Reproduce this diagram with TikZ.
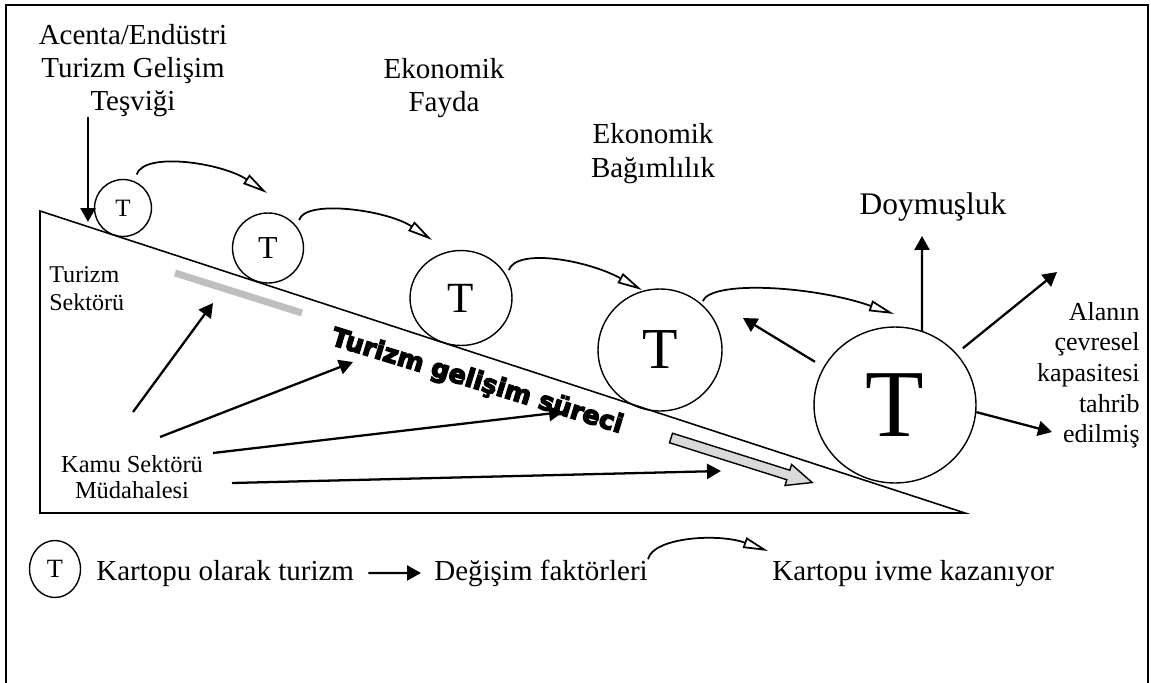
\documentclass[tikz,border=0pt]{standalone}
\usepackage{fontspec}
\setmainfont{Liberation Serif}
\newfontfamily\heavyfont[UprightFont={* Bold}, FakeBold=5]{DejaVu Sans}
\usepackage{tikz}
\usetikzlibrary{arrows.meta}
\usetikzlibrary{shapes.geometric}
\tikzset{>=latex}
\newcommand{\fs}[2]{\fontsize{#1}{#2}\selectfont}
\tikzstyle{ball} = [ellipse, draw = black, line width = 0.8pt, inner sep = 0]
\tikzstyle{lbl} = [draw = none, inner sep = 0]
\tikzstyle{push} = [-{Triangle[length = 0.28cm, width = 0.3cm]}, line width = 1.3pt]
\tikzstyle{roll} = [-{Triangle[open, length = 0.5cm, width = 0.22cm]}, line width = 1pt]

\begin{document}
\begin{tikzpicture}[x = 0.02cm, y = -0.02cm]
\useasboundingbox (0, 0) rectangle (1151, 682);
% frame and slope
\draw [line width = 1.4pt] (6, 700) -- (6, 5) -- (1148, 5) -- (1148, 700);
\draw [line width = 0.9pt] (40, 211) -- (965, 513) -- (40, 513) -- cycle;
\draw [line width = 0.14cm, gray!50] (175, 273) -- (302, 313);
\begin{scope}[shift = {(671, 438)}, rotate = -17.5]
\draw [line width = 0.8pt, fill = gray!30] (0, -5) -- (123, -5) -- (123, -11) -- (148, 0) -- (123, 11) -- (123, 5) -- (0, 5) -- cycle;
\end{scope}

% snowballs
\node [ball, minimum width = 1.14cm, minimum height = 1.14cm, font = \fs{14.2}{16}] (b1) at (123, 208) {T};
\node [ball, minimum width = 1.42cm, minimum height = 1.40cm, font = \fs{18.2}{20}] (b2) at (268, 248) {T};
\node [ball, minimum width = 2.04cm, minimum height = 1.90cm, font = \fs{24.5}{26}] (b3) at (461, 298) {T};
\node [ball, minimum width = 2.48cm, minimum height = 2.44cm, font = \fs{33}{36}] (b4) at (660, 350) {T};
\node [ball, minimum width = 3.24cm, minimum height = 3.12cm, font = \fs{54.6}{60}] (b5) at (895, 405) {T};

% labels
\node [lbl, anchor = north, align = center, font = \fs{16.5}{18.8}] (acenta) at (133, 24) {Acenta/Endüstri\\Turizm Gelişim\\Teşviği};
\node [lbl, anchor = north, align = center, font = \fs{16.5}{18.8}] (fayda) at (444, 58) {Ekonomik\\Fayda};
\node [lbl, anchor = north, align = center, font = \fs{16.5}{19.3}] (bagim) at (653, 123) {Ekonomik\\Bağımlılık};
\node [lbl, anchor = base, font = \fs{17.9}{20}] (doy) at (933, 214) {Doymuşluk};
\node [lbl, anchor = north east, align = right, font = \fs{14.8}{17.4}] (alan) at (1140, 302) {Alanın\\çevresel\\kapasitesi\\tahrib\\edilmiş};
\node [lbl, anchor = north west, align = left, font = \fs{13.7}{15.9}] (sektor) at (49, 266) {Turizm\\Sektörü};
\node [lbl, anchor = north, align = center, font = \fs{13.9}{14.8}] (kamu) at (132, 455) {Kamu Sektörü\\Müdahalesi};
\node [lbl, rotate = -17, font = \heavyfont\fs{14.5}{16}] (surec) at (477, 382) {Turizm gelişim süreci};

% free arrow ends
\coordinate (hit) at (88, 222);
\coordinate (t1) at (267, 193);
\coordinate (t2) at (432, 240);
\coordinate (t3) at (642, 290);
\coordinate (t4) at (894, 314);
\coordinate (k1) at (133, 412);
\coordinate (k2) at (160, 437);
\coordinate (k3) at (213, 453);
\coordinate (k4) at (232, 483);
\coordinate (g1) at (213, 303);
\coordinate (g2) at (353, 362);
\coordinate (g3) at (563, 412);
\coordinate (g4) at (721, 471);
\coordinate (doyarr) at (922, 236);
\coordinate (alanup) at (1057, 272);
\coordinate (alandn) at (1052, 432);
\coordinate (back) at (743, 318);

\draw [push] (hit |- acenta.south) -- (hit);
\draw [roll, shorten <= 0.14cm] (b1.67) .. controls +(10, -30) and +(-45, -30) .. (t1);
\draw [roll, shorten <= 0.14cm] (b2.36) .. controls +(8, -28) and +(-45, -30) .. (t2);
\draw [roll, shorten <= 0.12cm] (b3.26) .. controls +(10, -28) and +(-55, -30) .. (t3);
\draw [roll, shorten <= 0.06cm] (b4.48) .. controls +(10, -24) and +(-80, -28) .. (t4);
\draw [push] (k1) -- (g1);
\draw [push] (k2) -- (g2);
\draw [push] (k3) -- (g3);
\draw [push] (k4) -- (g4);
\draw [push] (b5.70) -- (doyarr);
\draw [push, shorten <= 0.16cm] (b5.40) -- (alanup);
\draw [push] (b5.-5) -- (alandn);
\draw [push, shorten <= 0.2cm] (b5.152) -- (back);

% key
\node [ball, minimum width = 1.02cm, minimum height = 1.14cm, font = \fs{15}{17}] (key) at (55, 569) {T};
\node [lbl, anchor = base west, font = \fs{16.5}{18}] (kart) at (96, 580) {Kartopu olarak turizm};
\node [lbl, anchor = base west, font = \fs{16.5}{18}] (degis) at (434, 580) {Değişim faktörleri};
\node [lbl, anchor = base west, font = \fs{16.5}{18}] (ivme) at (772, 580) {Kartopu ivme kazanıyor};
\coordinate (t5) at (768, 551);
\draw [push, shorten <= 0.28cm, shorten >= 0.26cm] (kart) -- (degis);
\draw [roll] (degis.north east) .. controls +(5, -22) and +(-50, -18) .. (t5);
\end{tikzpicture}
\end{document}
